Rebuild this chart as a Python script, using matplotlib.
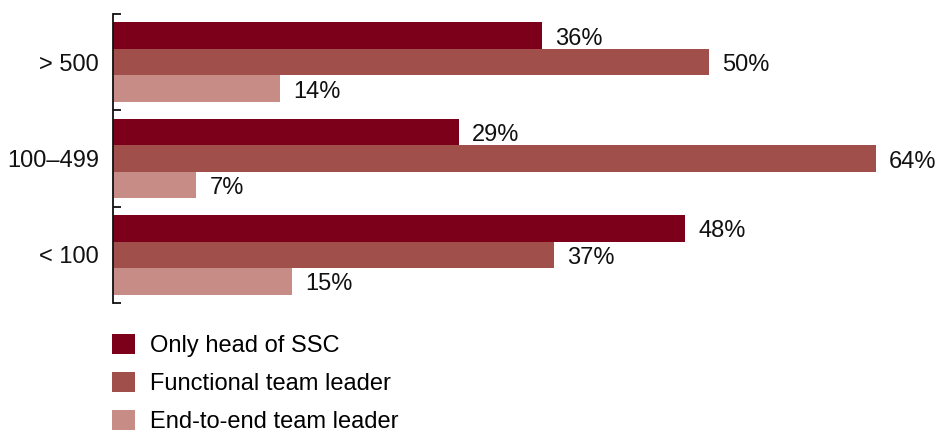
import numpy as np
import matplotlib
matplotlib.use("Agg")
import matplotlib.pyplot as plt
from matplotlib.patches import Patch

plt.rcParams["font.family"] = ["Liberation Sans", "DejaVu Sans"]

categories = ["> 500", "100\u2013499", "< 100"]
series_names = ["Only head of SSC", "Functional team leader", "End-to-end team leader"]
only_head = [36, 29, 48]
functional = [50, 64, 37]
end_to_end = [14, 7, 15]
colors = ["#7D001B", "#A04F4A", "#C68C85"]


def main():
    fig = plt.figure(figsize=(9.38, 4.34), dpi=100)
    ax = fig.add_axes([113 / 938, (434 - 303) / 434, 825 / 938, 289 / 434])

    values = [only_head, functional, end_to_end]
    centers = np.arange(len(categories)) + 0.5
    h = 0.275
    for i, (vals, col) in enumerate(zip(values, colors)):
        ys = centers + (i - 1) * h
        ax.barh(ys, vals, height=h, color=col, edgecolor="none")
        for y, v in zip(ys, vals):
            ax.annotate(f"{v}%", (v, y), xytext=(13, -3), textcoords="offset pixels",
                        va="center", ha="left", fontsize=17, color="#111111")

    ax.set_xlim(0, 825 / 11.92)
    ax.set_ylim(3, 0)
    ax.set_xticks([])
    ax.set_yticks(centers)
    ax.set_yticklabels(categories, fontsize=17, color="#111111")
    ax.tick_params(axis="y", which="major", length=0, pad=10)
    ax.set_yticks([0, 1, 2, 3], minor=True)
    ax.tick_params(axis="y", which="minor", direction="in", length=6, width=1.3, color="#111111")
    for s in ["top", "right", "bottom"]:
        ax.spines[s].set_visible(False)
    ax.spines["left"].set_linewidth(1.3)
    ax.spines["left"].set_color("#111111")

    handles = [Patch(facecolor=c, edgecolor="none") for c in colors]
    fig.legend(handles, series_names, loc="upper left",
               bbox_to_anchor=(112 / 938, 1 - 334 / 434), frameon=False,
               fontsize=17, borderpad=0, borderaxespad=0,
               handlelength=0.97, handleheight=0.93, handletextpad=0.64,
               labelspacing=0.62)

    fig.savefig("out.png", dpi=100)
    plt.close(fig)


if __name__ == "__main__":
    main()
